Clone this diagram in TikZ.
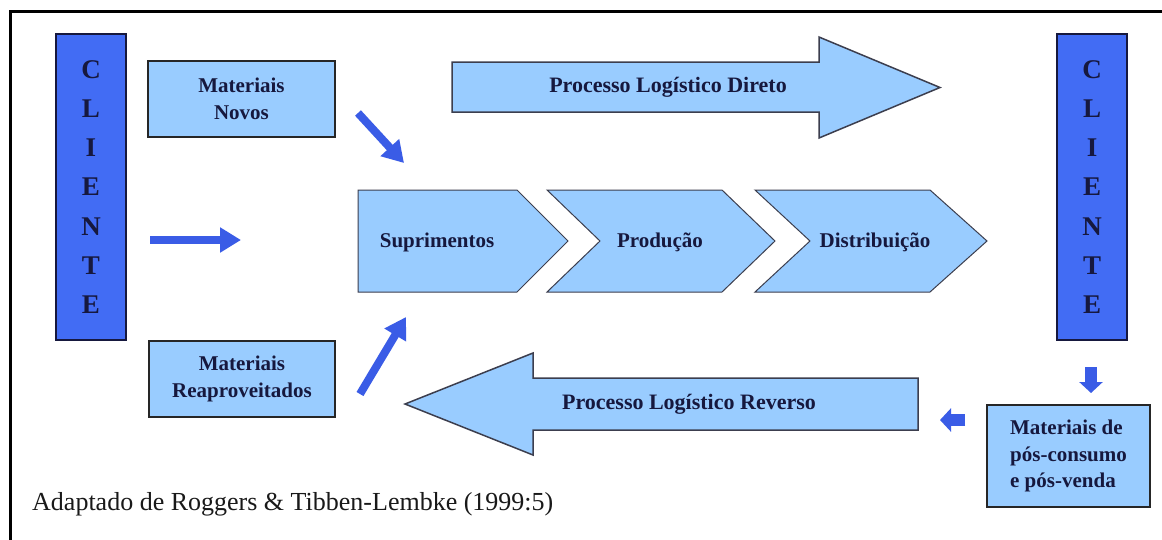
\documentclass[tikz,border=0pt]{standalone}
\usepackage{fontspec}
\setmainfont{Liberation Serif}
\usetikzlibrary{arrows.meta}
\definecolor{lightblue}{RGB}{153,204,255}
\definecolor{clientblue}{RGB}{66,108,244}
\definecolor{arrowblue}{RGB}{58,92,230}
\definecolor{navytext}{RGB}{22,24,62}
\definecolor{edgegray}{RGB}{60,62,78}
\tikzset{
  boxlabel/.style={font=\fontsize{21}{26.5}\selectfont\bfseries, text=navytext},
  matbox/.style={draw=black!85, line width=1.5pt, fill=lightblue, inner sep=0pt, boxlabel, align=center},
  clientbox/.style={draw=navytext, line width=1.5pt, fill=clientblue, minimum width=70pt, minimum height=306pt,
     inner sep=0pt, align=center, text=navytext, font=\fontsize{27}{39.3}\selectfont\bfseries},
  chevron/.style={draw=edgegray, line width=1pt, fill=lightblue},
  bigarrow/.style={draw=edgegray, line width=1.5pt, fill=lightblue, line join=miter},
  biglabel/.style={font=\fontsize{22}{26}\selectfont\bfseries, text=navytext, inner sep=0pt},
  thinarrow/.style={draw=arrowblue, line width=8pt, -{Triangle[length=21pt,width=24pt]}},
  smallarrow/.style={draw=arrowblue, line width=12pt, -{Triangle[length=11pt,width=23pt]}},
}
\begin{document}
\begin{tikzpicture}[x=1pt,y=-1pt]
\useasboundingbox (0,0) rectangle (1162,539);
\fill[white] (0,0) rectangle (1162,539);
% frame
\draw[line width=3pt, line cap=rect] (10,539) -- (10,11) -- (1162,11);

% clients
\node[clientbox] (cl) at (91,187) {C\\L\\I\\E\\N\\T\\E};
\node[clientbox] (cr) at (1092,187) {C\\L\\I\\E\\N\\T\\E};

% material boxes
\node[matbox, minimum width=187pt, minimum height=76pt] (novos) at (241.5,99) {Materiais\\Novos};
\node[matbox, minimum width=186pt, minimum height=76pt] (reap) at (242,379) {Materiais\\Reaproveitados};
\node[matbox, minimum width=163pt, minimum height=102pt, align=left] (pos) at (1068.5,456) {Materiais de\\pós-consumo\\e pós-venda};

% chevrons
\draw[chevron] (358,190) -- (517,190) -- (568,241) -- (517,292) -- (358,292) -- cycle;
\draw[chevron] (547,190) -- (722,190) -- (775,241) -- (722,292) -- (547,292) -- (600,241) -- cycle;
\draw[chevron] (755,190) -- (930,190) -- (987,241) -- (930,292) -- (755,292) -- (810,241) -- cycle;
\node[boxlabel] (sup) at (437,242) {Suprimentos};
\node[boxlabel] (prod) at (660,242) {Produção};
\node[boxlabel] (dist) at (875,242) {Distribuição};

% big block arrows
\draw[bigarrow] (452,62) -- (819,62) -- (819,37) -- (940,87.5) -- (819,138) -- (819,112) -- (452,112) -- cycle;
\node[biglabel] (direto) at (668,87) {Processo Logístico Direto};
\draw[bigarrow] (918,378) -- (533,378) -- (533,353) -- (405,404) -- (533,455) -- (533,430) -- (918,430) -- cycle;
\node[biglabel] (reverso) at (689,404) {Processo Logístico Reverso};

% connector coordinates
\coordinate (a1s) at (358,113);
\coordinate (a1e) at (404,163);
\coordinate (a2s) at (150,240);
\coordinate (a2e) at (241,240);
\coordinate (a3s) at (360,394);
\coordinate (a3e) at (406,317);
\coordinate (a4s) at (1091,367);
\coordinate (a4e) at (1091,393);
\coordinate (a5s) at (965,420);
\coordinate (a5e) at (940,420);
\draw[thinarrow] (a1s) -- (a1e);
\draw[thinarrow] (a2s) -- (a2e);
\draw[thinarrow] (a3s) -- (a3e);
\draw[smallarrow] (a4s) -- (a4e);
\draw[smallarrow] (a5s) -- (a5e);

% caption
\node[anchor=base west, inner sep=0pt, font=\fontsize{26}{30}\selectfont, text=black!90] (cap) at (32,510) {Adaptado de Roggers \& Tibben-Lembke (1999:5)};
\end{tikzpicture}
\end{document}
